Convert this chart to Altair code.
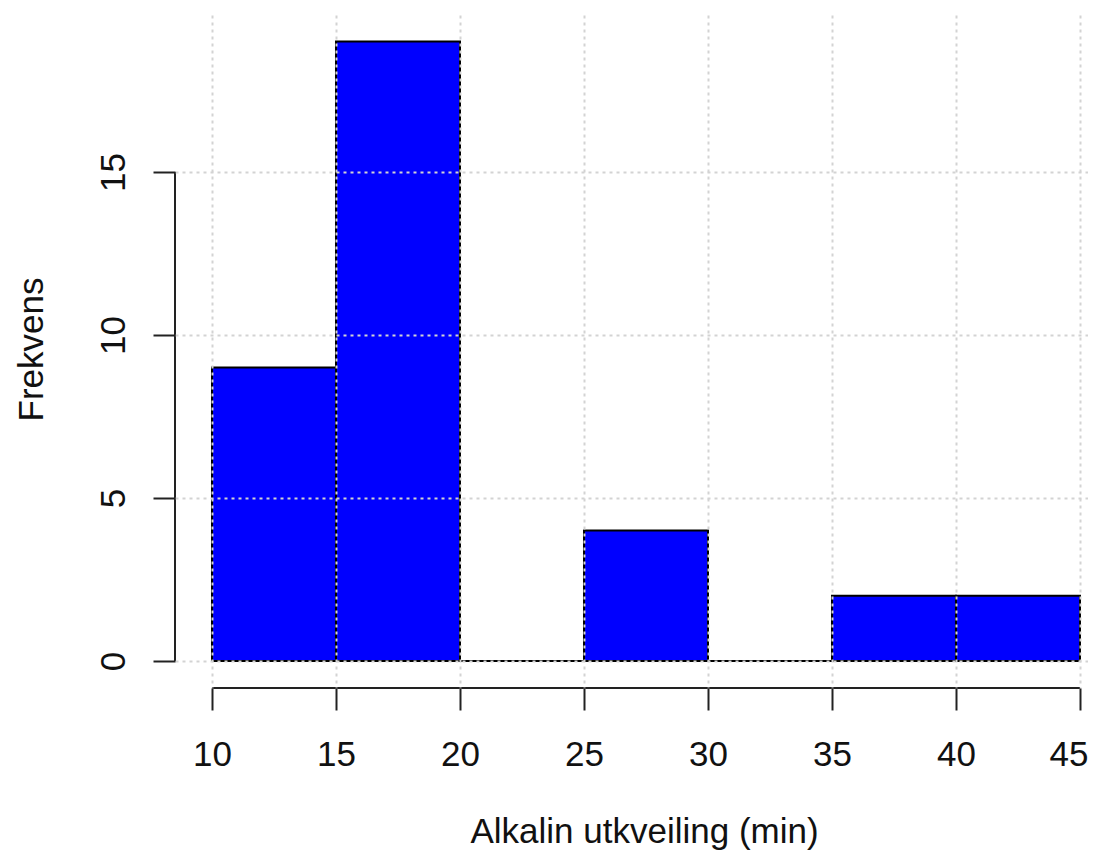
import altair as alt
import pandas as pd

# Histogram bins (min) and counts
bin_start = [10, 15, 20, 25, 30, 35, 40]
bin_end = [15, 20, 25, 30, 35, 40, 45]
counts = [9, 19, 0, 4, 0, 2, 2]

x_ticks = [10, 15, 20, 25, 30, 35, 40, 45]
y_ticks = [0, 5, 10, 15]

x_domain = [8.508, 45.323]
y_domain = [-0.828, 19.816]

FONT = "Liberation Sans"

bars_df = pd.DataFrame({"start": bin_start, "end": bin_end, "count": counts})

x_scale = alt.Scale(domain=x_domain, nice=False, zero=False)
y_scale = alt.Scale(domain=y_domain, nice=False, zero=False)

x_axis = alt.Axis(
    values=x_ticks, title="Alkalin utkveiling (min)", domain=False,
    grid=True, gridColor="#d3d3d3", gridDash=[3, 4], gridWidth=2,
    ticks=True, tickSize=22, tickWidth=2, tickColor="#222222",
    labelFont=FONT, labelFontSize=35, labelColor="#111111",
    labelBaseline="alphabetic", labelPadding=55,
    labelFlush=10, labelFlushOffset=8,
    titleFont=FONT, titleFontSize=35, titleFontWeight="normal", titleColor="#111111",
    titleX=469, titleY=154, titleBaseline="alphabetic", titleAlign="center",
    zindex=1,
)
y_axis = alt.Axis(
    values=y_ticks, title="Frekvens", domain=False,
    grid=True, gridColor="#d3d3d3", gridDash=[3, 4], gridWidth=2,
    ticks=True, tickSize=22, tickWidth=2, tickColor="#222222",
    labelFont=FONT, labelFontSize=35, labelColor="#111111",
    labelAngle=270, labelAlign="center", labelBaseline="alphabetic",
    labelPadding=29, labelFlush=False,
    titleFont=FONT, titleFontSize=35, titleFontWeight="normal", titleColor="#111111",
    titleAngle=270, titleX=-133, titleY=334, titleBaseline="alphabetic",
    titleAlign="center",
    zindex=1,
)

bars = alt.Chart(bars_df).mark_rect(
    fill="#0000ff", stroke="#000000", strokeWidth=2
).encode(
    x=alt.X("start:Q", scale=x_scale, axis=x_axis),
    x2="end:Q",
    y=alt.Y("zero:Q", scale=y_scale, axis=y_axis),
    y2="count:Q",
).transform_calculate(zero="0")

xline_df = pd.DataFrame({"a": [x_ticks[0]], "b": [x_ticks[-1]], "y": [y_domain[0]]})
yline_df = pd.DataFrame({"a": [y_ticks[0]], "b": [y_ticks[-1]], "x": [x_domain[0]]})

xline = alt.Chart(xline_df).mark_rule(color="#222222", strokeWidth=2).encode(
    x=alt.X("a:Q", scale=x_scale), x2="b:Q", y=alt.Y("y:Q", scale=y_scale)
)
yline = alt.Chart(yline_df).mark_rule(color="#222222", strokeWidth=2).encode(
    y=alt.Y("a:Q", scale=y_scale), y2="b:Q", x=alt.X("x:Q", scale=x_scale)
)

chart = alt.layer(bars, xline, yline).properties(
    width=913, height=673,
    autosize=alt.AutoSizeParams(type="none"),
    padding={"left": 167, "top": 7, "right": 0, "bottom": 163},
    background="white",
).configure_view(stroke=None)

chart.save("out.html", embed_options={"renderer": "svg", "actions": False})
